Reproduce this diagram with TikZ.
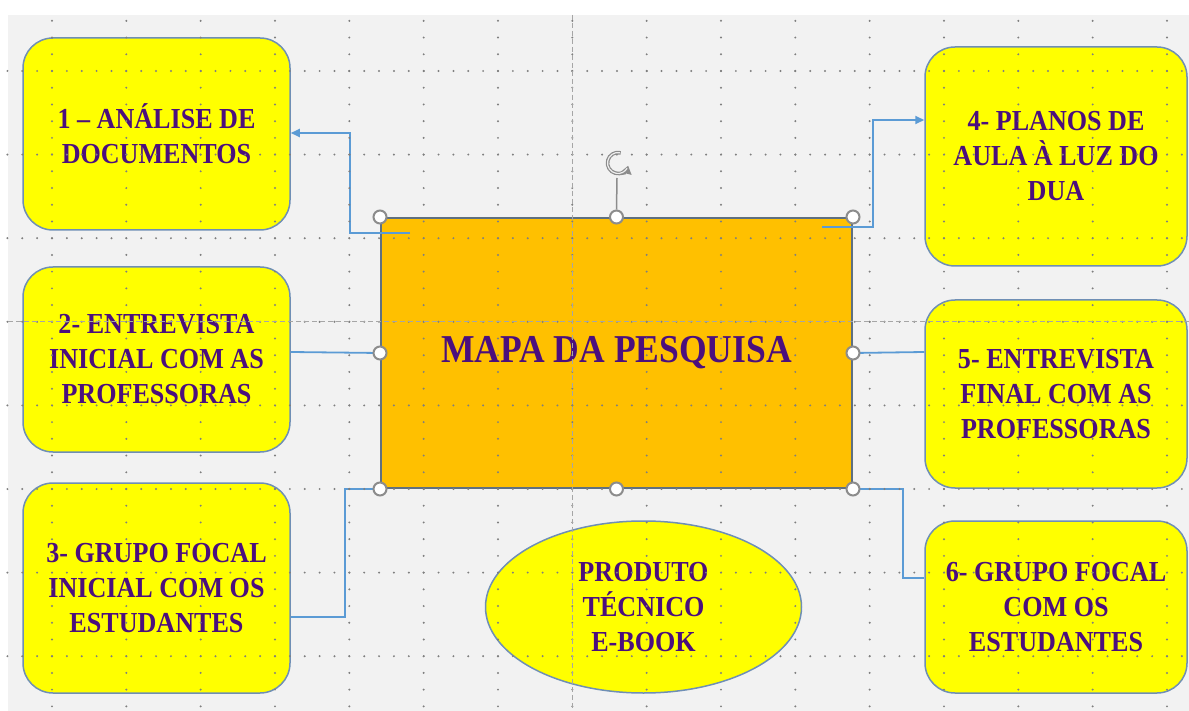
\documentclass[tikz,border=0pt]{standalone}
\usepackage{fontspec}
\newfontfamily\tnr[FakeStretch=0.9]{Liberation Serif}
\usetikzlibrary{shapes.geometric,arrows.meta}
\definecolor{bgc}{HTML}{F2F2F2}
\definecolor{boxc}{HTML}{FFFF00}
\definecolor{edgec}{HTML}{6F8FB5}
\definecolor{midc}{HTML}{FFC000}
\definecolor{midedge}{HTML}{5F7080}
\definecolor{txtc}{RGB}{75,15,125}
\definecolor{connc}{HTML}{5B9BD5}
\definecolor{dotc}{HTML}{7F7F7F}
\definecolor{guidec}{HTML}{A6A6A6}
\definecolor{handc}{HTML}{8C8C8C}
\begin{document}
\begin{tikzpicture}[x=1pt,y=-1pt,
  stagebox/.style={draw=edgec, line width=1.5pt, fill=boxc, rounded corners=30pt,
    inner sep=0pt, align=center, text=txtc,
    font=\tnr\bfseries\fontsize{29}{35}\selectfont},
  leftbox/.style={stagebox, minimum width=267pt},
  rightbox/.style={stagebox, minimum width=262pt},
  conn/.style={draw=connc, line width=1.8pt},
  connarrow/.style={conn, -{Triangle[length=9pt,width=8pt]}},
  handle/.style={circle, fill=white, draw=handc, line width=2pt, minimum size=13pt, inner sep=0pt},
  griddot/.style={fill=dotc},
  guide/.style={draw=guidec, line width=1.2pt, dash pattern=on 5pt off 3pt}]

% background
\fill[white] (0,0) rectangle (1189,711);
\fill[bgc] (8,15) rectangle (1189,711);
\useasboundingbox (0,0) rectangle (1189,711);

% left boxes
\node[leftbox, minimum height=192pt] (b1) at (156.5,134) {1 – ANÁLISE DE\\DOCUMENTOS};
\node[leftbox, minimum height=185pt] (b2) at (156.5,359.5) {2- ENTREVISTA\\INICIAL COM AS\\PROFESSORAS};
\node[leftbox, minimum height=210pt] (b3) at (156.5,588) {3- GRUPO FOCAL\\INICIAL COM OS\\ESTUDANTES};
% right boxes
\node[rightbox, minimum height=219pt] (b4) at (1056,156.5) {4- PLANOS DE\\AULA À LUZ DO\\DUA};
\node[rightbox, minimum height=188pt] (b5) at (1056,394) {5- ENTREVISTA\\FINAL COM AS\\PROFESSORAS};
\node[rightbox, minimum height=172pt] (b6) at (1056,607) {6- GRUPO FOCAL\\COM OS\\ESTUDANTES};

% ellipse
\node[ellipse, draw=edgec, line width=1.5pt, fill=boxc, minimum width=316pt, minimum height=172pt,
  inner sep=0pt, align=center, text=txtc, font=\tnr\bfseries\fontsize{29}{35}\selectfont]
  (e) at (643.5,607) {PRODUTO\\TÉCNICO\\E-BOOK};

% center rectangle
\node[draw=midedge, line width=2pt, fill=midc, minimum width=471pt, minimum height=270pt,
  inner sep=0pt, text=txtc, font=\tnr\bfseries\fontsize{39.5}{44}\selectfont]
  (m) at (616.5,353) {MAPA DA PESQUISA};

% connectors
\coordinate (s1) at (410,233);
\coordinate (s4) at (822,227);
\draw[connarrow] (s1) -- ++(-60,0) |- ([yshift=1pt]b1.east);
\draw[connarrow] (s4) -- ++(51,0) |- ([yshift=36.5pt]b4.west);
\draw[conn] ([yshift=7.5pt]b2.east) -- (m.west);
\draw[conn] (m.east) -- ([yshift=42pt]b5.west);
\draw[conn] (m.south west) -- ++(-35,0) |- ([yshift=-29pt]b3.east);
\draw[conn] (m.south east) -- ++(50,0) |- ([yshift=29pt]b6.west);

% grid dots
\foreach \j in {0,...,7} {
  \foreach \i in {-3,...,76} {
    \fill[griddot] (52+\i*14.8667, 71+\j*83.6) circle (1.1);
  }
}
\foreach \k in {0,...,15} {
  \foreach \n in {-3,...,38} {
    \fill[griddot] (52+\k*74.333, 71+\n*16.72) circle (1.1);
  }
}
% guides
\draw[guide] (572.3,15) -- (572.3,711);
\draw[guide] (8,321.8) -- (1189,321.8);

% selection handles
\node[handle] (hnw) at (m.north west) {};
\node[handle] (hn) at (m.north) {};
\node[handle] (hne) at (m.north east) {};
\node[handle] (hw) at (m.west) {};
\node[handle] (he) at (m.east) {};
\node[handle] (hsw) at (m.south west) {};
\node[handle] (hs) at (m.south) {};
\node[handle] (hse) at (m.south east) {};
% rotation handle
\coordinate (rot) at (618,163);
\draw[handc, line width=1.5pt] (hn.north) -- (617,178);
\draw[handc, line width=3.6pt, -{Triangle[length=8pt,width=11pt]}]
  ([shift={(-75:10.5)}]rot) arc[start angle=-75, end angle=-345, radius=10.5];
\draw[white!85!handc, line width=1.2pt]
  ([shift={(-80:10.5)}]rot) arc[start angle=-80, end angle=-330, radius=10.5];
\end{tikzpicture}
\end{document}
